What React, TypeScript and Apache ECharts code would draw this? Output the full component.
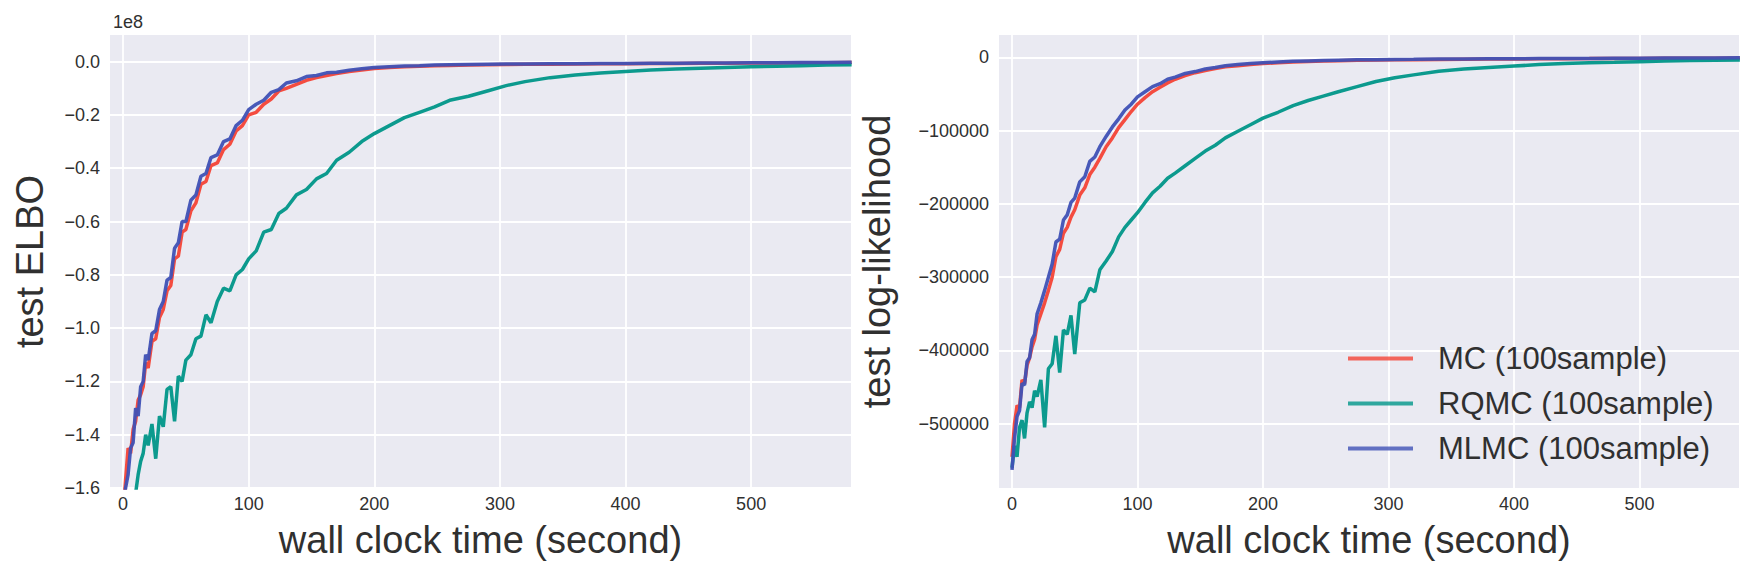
import React, { useEffect, useRef } from "react";
import * as echarts from "echarts";

// wall clock time (second) sample points shared by every curve
const TIME = [
  0, 2, 4, 6, 8, 10, 12, 14, 16, 18, 20,
  23, 26, 29, 32, 35, 38, 41, 44, 47, 50,
  54, 58, 62, 66, 70,
  75, 80, 85, 90, 95, 100,
  106, 112, 118, 124, 130,
  138, 146, 154, 162, 170,
  180, 190, 200,
  212, 224, 236, 248, 260,
  275, 290, 305, 320,
  340, 360, 380, 400, 420, 440, 460, 480, 500, 520, 540, 560, 580,
];

// test ELBO, in units of 1e8
const ELBO_MC = [
  -1.70, -1.57, -1.45, -1.47, -1.38, -1.35, -1.27, -1.25, -1.22, -1.13, -1.15,
  -1.05, -1.04, -0.96, -0.93, -0.86, -0.84, -0.74, -0.73, -0.64, -0.63,
  -0.56, -0.53, -0.46, -0.45, -0.39,
  -0.38, -0.33, -0.31, -0.26, -0.24, -0.20,
  -0.19, -0.16, -0.14, -0.11, -0.10,
  -0.085, -0.07, -0.06, -0.052, -0.045,
  -0.037, -0.031, -0.026,
  -0.022, -0.019, -0.017, -0.015, -0.014,
  -0.013, -0.012, -0.011, -0.010,
  -0.010, -0.009, -0.008, -0.008, -0.007, -0.007, -0.006, -0.006, -0.005, -0.005, -0.004, -0.004, -0.003,
];
const ELBO_RQMC = [
  -1.85, -1.80, -1.76, -1.70, -1.66, -1.62, -1.55, -1.50, -1.47, -1.40, -1.44,
  -1.36, -1.49, -1.33, -1.37, -1.23, -1.22, -1.35, -1.18, -1.20, -1.12,
  -1.10, -1.04, -1.03, -0.95, -0.98,
  -0.90, -0.85, -0.86, -0.80, -0.78, -0.74,
  -0.71, -0.64, -0.63, -0.57, -0.55,
  -0.50, -0.48, -0.44, -0.42, -0.37,
  -0.34, -0.30, -0.27,
  -0.24, -0.21, -0.19, -0.17, -0.145,
  -0.13, -0.11, -0.09, -0.075,
  -0.06, -0.05, -0.043, -0.037, -0.031, -0.028, -0.025, -0.022, -0.019, -0.017, -0.015, -0.013, -0.012,
];
const ELBO_MLMC = [
  -1.68, -1.60, -1.55, -1.45, -1.43, -1.30, -1.33, -1.22, -1.20, -1.10, -1.12,
  -1.02, -1.01, -0.93, -0.90, -0.82, -0.81, -0.70, -0.68, -0.60, -0.60,
  -0.52, -0.50, -0.43, -0.42, -0.36,
  -0.35, -0.30, -0.29, -0.24, -0.22, -0.18,
  -0.16, -0.145, -0.115, -0.105, -0.08,
  -0.072, -0.056, -0.052, -0.042, -0.04,
  -0.032, -0.027, -0.022,
  -0.019, -0.016, -0.015, -0.013, -0.012,
  -0.011, -0.010, -0.009, -0.009,
  -0.008, -0.008, -0.007, -0.007, -0.006, -0.006, -0.005, -0.005, -0.004, -0.004, -0.003, -0.003, -0.002,
];

// test log-likelihood
const LL_MC = [
  -545000, -500000, -475000, -478000, -440000, -445000, -420000, -410000, -395000, -385000, -365000,
  -350000, -335000, -318000, -300000, -272000, -262000, -240000, -232000, -218000, -208000,
  -188000, -178000, -160000, -150000, -138000,
  -122000, -110000, -96000, -85000, -74000, -64000,
  -55000, -47000, -41000, -35000, -30000,
  -25000, -21000, -18000, -15500, -13000,
  -11500, -9800, -8500,
  -7500, -6500, -5800, -5200, -4700,
  -4200, -3800, -3500, -3200,
  -2900, -2700, -2500, -2300, -2100, -1900, -1800, -1600, -1500, -1400, -1300, -1200, -1100,
];
const LL_RQMC = [
  -560000, -530000, -545000, -505000, -495000, -520000, -485000, -470000, -478000, -455000, -463000,
  -440000, -505000, -425000, -418000, -380000, -430000, -372000, -378000, -352000, -405000,
  -335000, -331000, -315000, -320000, -290000,
  -278000, -265000, -245000, -232000, -222000, -212000,
  -198000, -185000, -176000, -165000, -158000,
  -148000, -138000, -128000, -120000, -110000,
  -101000, -92000, -83000,
  -75000, -66000, -59000, -53000, -47000,
  -40000, -33000, -28000, -24000,
  -19000, -16000, -14000, -12000, -10000, -8500, -7500, -6800, -6000, -5200, -4500, -4000, -3600,
];
const LL_MLMC = [
  -563000, -520000, -490000, -482000, -445000, -447000, -415000, -410000, -385000, -378000, -350000,
  -335000, -318000, -300000, -282000, -252000, -248000, -222000, -215000, -198000, -192000,
  -170000, -163000, -142000, -136000, -122000,
  -108000, -95000, -84000, -72000, -64000, -54000,
  -47000, -40000, -36000, -30000, -27000,
  -22000, -19500, -16000, -14000, -11500,
  -10000, -8500, -7500,
  -6500, -5500, -5000, -4500, -4000,
  -3500, -3200, -3000, -2800,
  -2500, -2300, -2100, -2000, -1800, -1600, -1500, -1300, -1200, -1100, -1000, -900, -800,
];

const SERIES_NAMES = ["MC (100sample)", "RQMC (100sample)", "MLMC (100sample)"];
const X_TICKS = [0, 100, 200, 300, 400, 500];
const ELBO_TICKS = [-1.6, -1.4, -1.2, -1.0, -0.8, -0.6, -0.4, -0.2, 0];
const LL_TICKS = [-500000, -400000, -300000, -200000, -100000, 0];
const X_TITLE = "wall clock time (second)";
const ELBO_TITLE = "test ELBO";
const LL_TITLE = "test log-likelihood";
const ELBO_EXP = "1e8";

const COLORS = ["#F44336", "#009688", "#3F51B5"];
const FONT = "'Liberation Sans', Arial, sans-serif";
const TXT = "#303030";

const pairs = (vals: number[]) => TIME.map((t, i) => [t, vals[i]]);
const minus = (s: string) => s.replace("-", "\u2212");

export default function App() {
  const ref = useRef<HTMLDivElement>(null);
  useEffect(() => {
    if (!ref.current) return;
    const chart = echarts.init(ref.current, undefined, { renderer: "svg" });

    const xAxisBase = (min: number, max: number, gridIndex: number) => ({
      type: "value",
      gridIndex,
      min,
      max,
      axisLine: { show: false },
      axisTick: { show: false, customValues: X_TICKS },
      axisLabel: { customValues: X_TICKS, fontSize: 18, color: TXT, margin: 7, fontFamily: FONT },
      splitLine: { show: true, lineStyle: { color: "#ffffff", width: 1.8 } },
      name: X_TITLE,
      nameLocation: "middle",
      nameGap: 33,
      nameTextStyle: { fontSize: 38, color: TXT, fontFamily: FONT },
    });

    const yAxisBase = (
      min: number,
      max: number,
      gridIndex: number,
      ticks: number[],
      fmt: (v: number) => string,
      name: string,
      nameGap: number
    ) => ({
      type: "value",
      gridIndex,
      min,
      max,
      axisLine: { show: false },
      axisTick: { show: false, customValues: ticks },
      axisLabel: { customValues: ticks, fontSize: 18, color: TXT, margin: 10, fontFamily: FONT, formatter: fmt },
      splitLine: { show: true, lineStyle: { color: "#ffffff", width: 1.8 } },
      name,
      nameLocation: "middle",
      nameGap,
      nameTextStyle: { fontSize: 38, color: TXT, fontFamily: FONT },
    });

    const line = (name: string, color: string, vals: number[], idx: number) => ({
      type: "line",
      name,
      xAxisIndex: idx,
      yAxisIndex: idx,
      data: pairs(vals),
      showSymbol: false,
      symbol: "none",
      color,
      lineStyle: { color, width: 3.5, opacity: 0.95 },
      clip: true,
    });

    chart.setOption({
      animation: false,
      grid: [
        { left: 110, top: 35, width: 741, height: 453, show: true, backgroundColor: "#EAEAF2", borderWidth: 0 },
        { left: 999, top: 35, width: 740, height: 453, show: true, backgroundColor: "#EAEAF2", borderWidth: 0 },
      ],
      xAxis: [xAxisBase(-10.4, 579.5, 0), xAxisBase(-10.36, 579.3, 1)],
      yAxis: [
        yAxisBase(-1.6, 0.1, 0, ELBO_TICKS, (v: number) => minus(v.toFixed(1)), ELBO_TITLE, 61),
        yAxisBase(-587600, 30400, 1, LL_TICKS, (v: number) => minus(String(Math.round(v))), LL_TITLE, 103),
      ],
      legend: {
        data: SERIES_NAMES,
        orient: "vertical",
        left: 1343,
        top: 338,
        icon: "rect",
        itemWidth: 65,
        itemHeight: 4,
        itemGap: 14,
        itemStyle: { opacity: 0.8 },
        textStyle: { fontSize: 31, lineHeight: 31, color: TXT, fontFamily: FONT, padding: [0, 0, 0, 20] },
      },
      graphic: [
        {
          type: "text",
          left: 113,
          top: 13,
          style: { text: ELBO_EXP, fontSize: 18, fontFamily: FONT, fill: TXT },
        },
      ],
      series: [
        line(SERIES_NAMES[0], COLORS[0], ELBO_MC, 0),
        line(SERIES_NAMES[1], COLORS[1], ELBO_RQMC, 0),
        line(SERIES_NAMES[2], COLORS[2], ELBO_MLMC, 0),
        line(SERIES_NAMES[0], COLORS[0], LL_MC, 1),
        line(SERIES_NAMES[1], COLORS[1], LL_RQMC, 1),
        line(SERIES_NAMES[2], COLORS[2], LL_MLMC, 1),
      ],
    });
    return () => chart.dispose();
  }, []);
  return (
    <div
      ref={ref}
      style={{ position: "absolute", left: 0, top: 0, width: 1751, height: 576, background: "#ffffff" }}
    />
  );
}
